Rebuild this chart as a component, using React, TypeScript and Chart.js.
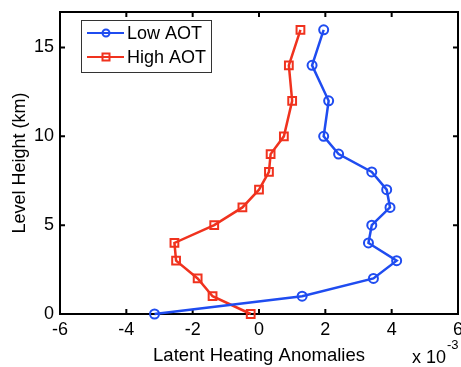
import React, { useEffect, useRef } from "react";
import { Chart, registerables } from "chart.js";

Chart.register(...registerables);

const levels = [0, 1, 2, 3, 4, 5, 6, 7, 8, 9, 10, 12, 14, 16];
const lowAOT = [-3.15, 1.3, 3.45, 4.15, 3.3, 3.4, 3.95, 3.85, 3.4, 2.4, 1.95, 2.1, 1.6, 1.95];
const highAOT = [-0.25, -1.4, -1.85, -2.5, -2.55, -1.35, -0.5, 0.0, 0.3, 0.35, 0.75, 1.0, 0.9, 1.25];
const seriesNames = ["Low AOT", "High AOT"];
const xTitle = "Latent Heating Anomalies";
const yTitle = "Level Height (km)";
const exponentLabel = ["x 10", "-3"];

const BLUE = "#1f4cf0";
const RED = "#f0321e";
const FONT = "'Liberation Sans', Arial, Helvetica, sans-serif";

const zeroPad = () => ({ left: 0, right: 0, top: 0, bottom: 0 });

const framePlugin = {
  id: "matlabFrame",
  beforeDatasetsDraw(chart: any) {
    const { ctx, chartArea } = chart;
    const { left, right, top, bottom } = chartArea;
    ctx.save();
    ctx.strokeStyle = "#000";
    ctx.lineWidth = 2;
    ctx.strokeRect(left, top, right - left, bottom - top);
    const tl = 5;
    const xs = chart.scales.x;
    const ys = chart.scales.y;
    ctx.beginPath();
    xs.ticks.forEach((t: any) => {
      const p = xs.getPixelForValue(t.value);
      ctx.moveTo(p, bottom);
      ctx.lineTo(p, bottom - tl);
      ctx.moveTo(p, top);
      ctx.lineTo(p, top + tl);
    });
    ys.ticks.forEach((t: any) => {
      const p = ys.getPixelForValue(t.value);
      ctx.moveTo(left, p);
      ctx.lineTo(left + tl, p);
      ctx.moveTo(right, p);
      ctx.lineTo(right - tl, p);
    });
    ctx.stroke();
    ctx.restore();
  },
  afterDraw(chart: any) {
    const { ctx } = chart;
    ctx.save();
    const bx = 81, by = 20, bw = 130, bh = 52;
    ctx.fillStyle = "#fff";
    ctx.fillRect(bx, by, bw, bh);
    ctx.strokeStyle = "#333";
    ctx.lineWidth = 1;
    ctx.strokeRect(bx + 0.5, by + 0.5, bw, bh);
    const rows = [
      { name: seriesNames[0], color: BLUE, y: 33, style: "circle" },
      { name: seriesNames[1], color: RED, y: 57, style: "rect" },
    ];
    rows.forEach((r) => {
      ctx.strokeStyle = r.color;
      ctx.lineWidth = 2;
      ctx.beginPath();
      ctx.moveTo(87, r.y);
      ctx.lineTo(124, r.y);
      ctx.stroke();
      ctx.beginPath();
      if (r.style === "circle") {
        ctx.arc(106, r.y, 3.5, 0, Math.PI * 2);
      } else {
        ctx.rect(102.5, r.y - 3.5, 7, 7);
      }
      ctx.stroke();
      ctx.fillStyle = "#000";
      ctx.font = `18px ${FONT}`;
      ctx.textBaseline = "middle";
      ctx.textAlign = "left";
      ctx.fillText(r.name, 127, r.y + 1);
    });
    ctx.fillStyle = "#000";
    ctx.textBaseline = "alphabetic";
    ctx.font = `18px ${FONT}`;
    ctx.fillText(exponentLabel[0], 412, 363);
    const w = ctx.measureText(exponentLabel[0]).width;
    ctx.font = `13px ${FONT}`;
    ctx.fillText(exponentLabel[1], 412 + w + 1, 349);
    ctx.restore();
  },
};

export default function App() {
  const ref = useRef<HTMLCanvasElement | null>(null);
  useEffect(() => {
    document.body.style.margin = "0";
    if (!ref.current) return;
    const font = { family: FONT, size: 18 };
    const chart = new Chart(ref.current, {
      type: "scatter",
      data: {
        datasets: [
          {
            label: seriesNames[0],
            data: levels.map((y, i) => ({ x: lowAOT[i], y })),
            showLine: true,
            borderColor: BLUE,
            backgroundColor: "transparent",
            borderWidth: 2.5,
            pointStyle: "circle",
            pointRadius: 4.5,
            pointBorderWidth: 2,
            pointBorderColor: BLUE,
            pointBackgroundColor: "transparent",
            clip: false as any,
          },
          {
            label: seriesNames[1],
            data: levels.map((y, i) => ({ x: highAOT[i], y })),
            showLine: true,
            borderColor: RED,
            backgroundColor: "transparent",
            borderWidth: 2.5,
            pointStyle: "rect",
            pointRadius: 5.5,
            pointBorderWidth: 2,
            pointBorderColor: RED,
            pointBackgroundColor: "transparent",
            clip: false as any,
          },
        ],
      },
      options: {
        responsive: false,
        animation: false,
        layout: { autoPadding: false, padding: { top: 12, right: 3, left: 0, bottom: 0 } },
        plugins: { legend: { display: false }, tooltip: { enabled: false } },
        scales: {
          x: {
            type: "linear",
            position: "bottom",
            min: -6,
            max: 6,
            ticks: { stepSize: 2, padding: 5, color: "#000", font, includeBounds: false },
            grid: { display: false, drawTicks: false },
            border: { display: false },
            title: { display: true, text: xTitle, color: "#000", font: { family: FONT, size: 18.5 }, padding: { top: 0, bottom: 0 } },
            afterFit: (s: any) => {
              s.height = 53;
              s.paddingLeft = 0;
              s.paddingRight = 0;
              s.getPadding = zeroPad;
            },
          },
          y: {
            type: "linear",
            min: 0,
            max: 17,
            ticks: { stepSize: 5, padding: 6, color: "#000", font, includeBounds: false },
            grid: { display: false, drawTicks: false },
            border: { display: false },
            title: { display: true, text: yTitle, color: "#000", font, padding: { top: 9, bottom: 0 } },
            afterFit: (s: any) => {
              s.width = 60;
              s.paddingTop = 0;
              s.paddingBottom = 0;
              s.getPadding = zeroPad;
            },
          },
        },
      },
      plugins: [framePlugin],
    } as any);
    return () => chart.destroy();
  }, []);
  return <canvas ref={ref} width={461} height={367} style={{ display: "block" }} />;
}
